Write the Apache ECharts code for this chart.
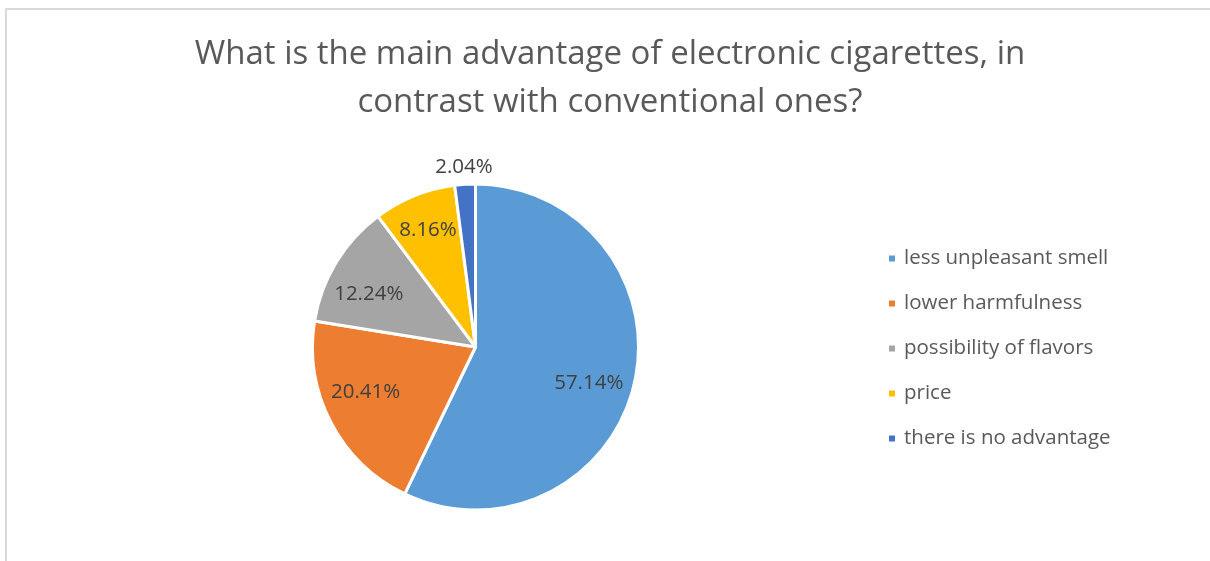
<!DOCTYPE html>
<html>
<head>
<meta charset="utf-8">
<script src="https://cdn.jsdelivr.net/npm/echarts@6/dist/echarts.min.js"></script>
<style>
html,body{margin:0;padding:0;background:#fff;}
#chart{width:1210px;height:561px;}
</style>
</head>
<body>
<div id="chart"></div>
<script>
const titleText = 'What is the main advantage of electronic cigarettes, in\ncontrast with conventional ones?';
const categories = ['less unpleasant smell', 'lower harmfulness', 'possibility of flavors', 'price', 'there is no advantage'];
const values = [57.14, 20.41, 12.24, 8.16, 2.04];
const colors = ['#5B9BD5', '#ED7D31', '#A5A5A5', '#FFC000', '#4472C4'];
// which label ring each slice's label sits on (mimics Excel best-fit placement)
const labelRing = [0, 0, 1, 2, 3];

const FONT = '"Open Sans", sans-serif';

function pieData(ring) {
  return categories.map((c, i) => ({
    name: c,
    value: values[i],
    itemStyle: { color: ring === null ? colors[i] : 'rgba(0,0,0,0)' },
    label: { show: ring !== null && labelRing[i] === ring }
  }));
}

const labelStyle = {
  position: 'inside',
  formatter: p => p.value.toFixed(2) + '%',
  color: '#404040',
  fontFamily: FONT,
  fontSize: 20.5
};

// invisible label rings: radius range and angular offset
const rings = [
  { radius: [69, 163], startAngle: 85 },
  { radius: [69, 163], startAngle: 95 },
  { radius: [84, 163], startAngle: 90 },
  { radius: [165, 189], startAngle: 90 }
];

const series = [{
  type: 'pie',
  center: [475.5, 347],
  radius: [0, 163],
  startAngle: 90,
  clockwise: true,
  silent: true,
  label: { show: false },
  labelLine: { show: false },
  itemStyle: { borderColor: '#ffffff', borderWidth: 3 },
  data: pieData(null)
}];
rings.forEach((r, k) => {
  series.push({
    type: 'pie',
    center: [475.5, 347],
    radius: r.radius,
    startAngle: r.startAngle,
    clockwise: true,
    silent: true,
    legendHoverLink: false,
    label: labelStyle,
    labelLine: { show: false },
    itemStyle: { borderWidth: 0 },
    emphasis: { disabled: true },
    data: pieData(k)
  });
});

const chart = echarts.init(document.getElementById('chart'), null, { renderer: 'canvas' });
chart.setOption({
  animation: false,
  backgroundColor: '#ffffff',
  color: colors,
  title: {
    text: titleText,
    left: 605,
    textAlign: 'center',
    top: 26,
    textStyle: {
      fontFamily: FONT,
      fontSize: 33,
      fontWeight: 'normal',
      color: '#595959',
      lineHeight: 48
    }
  },
  legend: {
    orient: 'vertical',
    left: 882,
    top: 243,
    icon: 'rect',
    itemWidth: 8,
    itemHeight: 8,
    itemGap: 24,
    selectedMode: false,
    data: categories,
    textStyle: {
      fontFamily: FONT,
      fontSize: 20.5,
      color: '#595959',
      lineHeight: 20,
      padding: [0, 0, 0, 3]
    }
  },
  graphic: [{
    type: 'rect',
    shape: { x: 6, y: 9, width: 1400, height: 800 },
    style: { fill: 'none', stroke: '#d9d9d9', lineWidth: 2 },
    silent: true,
    z: -10
  }],
  series: series
});
</script>
</body>
</html>
